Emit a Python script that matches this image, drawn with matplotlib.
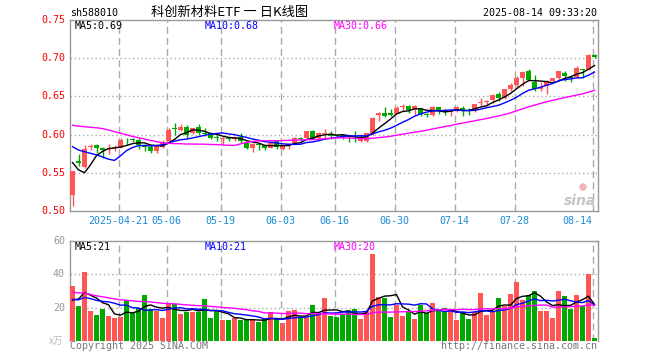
import numpy as np
import matplotlib
matplotlib.use('Agg')
import matplotlib.pyplot as plt

# ---------------- data ----------------
open_ = [0.521, 0.5653, 0.558, 0.584, 0.587, 0.582, 0.580, 0.582, 0.583, 0.592,
         0.5935, 0.5925, 0.586, 0.584, 0.5785, 0.584, 0.5917, 0.608, 0.606, 0.6105,
         0.6026, 0.6105, 0.6026, 0.6026, 0.597, 0.5945, 0.595, 0.594, 0.597, 0.5895,
         0.582, 0.588, 0.586, 0.583, 0.5917, 0.5815, 0.587, 0.5895, 0.5952, 0.5952,
         0.6044, 0.5961, 0.6013, 0.600, 0.599, 0.599, 0.598, 0.5957, 0.5917, 0.5917,
         0.6017, 0.6263, 0.628, 0.628, 0.6272, 0.636, 0.6378, 0.6333, 0.6342, 0.6268,
         0.6255, 0.636, 0.6316, 0.6294, 0.6311, 0.6346, 0.632, 0.6311, 0.6412, 0.643,
         0.6452, 0.6535, 0.6474, 0.6597, 0.6654, 0.6741, 0.6833, 0.6693, 0.6597, 0.6632,
         0.6697, 0.6737, 0.6807, 0.6754, 0.675, 0.686, 0.6847, 0.7048]
high = [0.553, 0.5741, 0.586, 0.588, 0.588, 0.584, 0.588, 0.587, 0.596, 0.5956,
        0.596, 0.595, 0.588, 0.586, 0.588, 0.593, 0.608, 0.615, 0.6136, 0.612,
        0.609, 0.6136, 0.608, 0.604, 0.600, 0.598, 0.597, 0.598, 0.6026, 0.590,
        0.589, 0.5895, 0.587, 0.590, 0.593, 0.587, 0.5895, 0.5965, 0.597, 0.605,
        0.606, 0.604, 0.607, 0.6044, 0.600, 0.600, 0.600, 0.6044, 0.601, 0.6026,
        0.6232, 0.6294, 0.6364, 0.6338, 0.6377, 0.640, 0.6386, 0.6386, 0.6345, 0.628,
        0.6377, 0.6364, 0.6333, 0.634, 0.6368, 0.6377, 0.6346, 0.640, 0.6474, 0.6452,
        0.653, 0.6553, 0.660, 0.6671, 0.6772, 0.6834, 0.686, 0.678, 0.6693, 0.671,
        0.6741, 0.6838, 0.6833, 0.6772, 0.6895, 0.686, 0.705, 0.705]
low = [0.507, 0.5588, 0.556, 0.580, 0.576, 0.570, 0.575, 0.5785, 0.582, 0.587,
       0.590, 0.581, 0.579, 0.576, 0.576, 0.582, 0.5895, 0.599, 0.6048, 0.596,
       0.601, 0.599, 0.598, 0.594, 0.5917, 0.586, 0.591, 0.592, 0.589, 0.581,
       0.577, 0.580, 0.580, 0.582, 0.5815, 0.580, 0.5807, 0.589, 0.5917, 0.594,
       0.594, 0.594, 0.5961, 0.5948, 0.595, 0.5939, 0.590, 0.590, 0.590, 0.590,
       0.600, 0.618, 0.6224, 0.6246, 0.6268, 0.6311, 0.628, 0.6254, 0.6246, 0.6224,
       0.6246, 0.627, 0.6254, 0.6246, 0.630, 0.6246, 0.6254, 0.630, 0.6377, 0.6377,
       0.6412, 0.6443, 0.6465, 0.6575, 0.6618, 0.664, 0.6714, 0.6575, 0.6575, 0.6531,
       0.668, 0.6715, 0.6706, 0.6693, 0.6737, 0.6741, 0.684, 0.700]
close = [0.552, 0.5623, 0.581, 0.585, 0.582, 0.580, 0.581, 0.584, 0.5925, 0.591,
         0.5925, 0.586, 0.584, 0.5785, 0.587, 0.590, 0.6057, 0.607, 0.6105, 0.5996,
         0.608, 0.6026, 0.601, 0.5956, 0.5952, 0.596, 0.594, 0.597, 0.5917, 0.582,
         0.5873, 0.587, 0.582, 0.5886, 0.5838, 0.586, 0.588, 0.5952, 0.594, 0.6044,
         0.5948, 0.6026, 0.6026, 0.5987, 0.598, 0.5975, 0.5965, 0.594, 0.596, 0.6017,
         0.6219, 0.628, 0.6237, 0.6263, 0.6351, 0.6378, 0.6325, 0.6368, 0.6268, 0.6255,
         0.636, 0.6311, 0.629, 0.6311, 0.6355, 0.6311, 0.6311, 0.6395, 0.6425, 0.6443,
         0.6522, 0.6478, 0.6597, 0.6654, 0.6741, 0.682, 0.6719, 0.6597, 0.6627, 0.6706,
         0.6737, 0.6833, 0.6772, 0.6737, 0.6873, 0.6847, 0.7048, 0.7013]
volume = [33, 21, 41.4, 18, 15.4, 19.2, 14.8, 13.8, 14.4, 24.6,
          16.8, 19.8, 27.6, 19.4, 18, 13.8, 22, 22, 16, 17.4,
          17.4, 17.4, 25.2, 13.8, 17.8, 12.4, 12.4, 13.8, 12.4, 13,
          12.4, 11.2, 13.4, 17.2, 13.4, 10.6, 17.8, 18.4, 14.4, 13.8,
          21.4, 17.2, 25.6, 14.8, 14.4, 16, 18.4, 19, 13, 17.8,
          52, 26.2, 25.6, 14.2, 21.4, 14.8, 17.2, 13, 21.4, 16.6,
          22.6, 18.4, 17.2, 18.4, 12.4, 17.2, 13, 17.2, 28.6, 15.4,
          17.8, 25.6, 20.8, 28, 35.2, 24.4, 27.4, 29.8, 17.8, 17.8,
          13.6, 29.8, 26.8, 19, 27.5, 20.8, 40.5, 1.6]
# closes / volumes of the 29 sessions before the window (estimated from the MA lines)
prior_close = [0.600, 0.603, 0.606, 0.604, 0.607,
               0.640, 0.648, 0.655, 0.652, 0.655,
               0.640, 0.636, 0.632, 0.630, 0.635, 0.631,
               0.618, 0.614, 0.613,
               0.607, 0.606, 0.604, 0.605, 0.603, 0.607,
               0.610, 0.600, 0.533, 0.522]
prior_volume = [38, 42, 45, 40, 36, 34, 33, 30, 32, 29,
                31, 28, 27, 30, 26, 28, 25, 27, 26, 25,
                24, 27, 25, 26, 25, 18, 22, 26, 24]

tick_index = [8, 16, 25, 35, 44, 54, 64, 74, 87]
tick_labels = ['2025-04-21', '05-06', '05-19', '06-03', '06-16',
               '06-30', '07-14', '07-28', '08-14']
price_ticks = [0.50, 0.55, 0.60, 0.65, 0.70, 0.75]
vol_ticks = [20, 40, 60]
ma_periods = [5, 10, 30]
price_ma_text = ['0.69', '0.68', '0.66']
vol_ma_text = ['21', '21', '20']

# ---------------- style ----------------
RED = '#ff5555'
GREEN = '#00a800'
MA_COLORS = ['#000000', '#0000ff', '#ff00ff']
GRID = '#aaaaaa'
FRAME = '#999999'
DATE_BLUE = '#1a8ad6'
MONO = 'DejaVu Sans Mono'
FS = 7.2
CJK = ['Noto Sans CJK SC', 'DejaVu Sans']

W, H = 660, 360
fig = plt.figure(figsize=(W / 100, H / 100), dpi=100)


def fx(px):
    return px / W


def fy(py):
    return 1 - py / H


ax = fig.add_axes([fx(70), fy(211), 528 / W, 191 / H])
axv = fig.add_axes([fx(70), fy(341), 528 / W, 100 / H])

n = len(close)
x = np.arange(n)
o = np.array(open_)
c = np.array(close)
hi = np.array(high)
lo = np.array(low)
v = np.array(volume)
up = c >= o
cols = np.where(up, RED, GREEN)


def moving(full, p, k):
    arr = np.asarray(full, dtype=float)
    return np.convolve(arr, np.ones(p) / p, mode='valid')[-k:]


full_close = list(prior_close) + list(close)
full_vol = list(prior_volume) + list(volume)

xl = (-2.5 / 6, n - 2.5 / 6)

# --- price panel ---
for yv in price_ticks[1:-1]:
    ax.axhline(yv, color=GRID, lw=1, ls=(0, (1, 2)), zorder=0)
for axx in (ax, axv):
    for ti in tick_index:
        axx.axvline(ti - 2.5 / 6 + 1 / 12, color=GRID, lw=1, ls=(0, (5, 3)), zorder=0)

body_b = np.minimum(o, c)
body_h = np.maximum(np.abs(c - o), 0.0012)
ax.vlines(x, lo, hi, colors=cols, lw=1, zorder=2)
ax.bar(x, body_h, bottom=body_b, width=5 / 6, color=cols, linewidth=0, zorder=3)
for p, mc in zip(ma_periods, MA_COLORS):
    ax.plot(x, moving(full_close, p, n), color=mc, lw=1, zorder=4)

ax.set_xlim(*xl)
ax.set_ylim(0.50, 0.75)

# --- volume panel ---
for yv in vol_ticks[:-1]:
    axv.axhline(yv, color=GRID, lw=1, ls=(0, (1, 2)), zorder=0)
axv.bar(x, v, width=5 / 6, color=cols, linewidth=0, zorder=3)
for p, mc in zip(ma_periods, MA_COLORS):
    axv.plot(x, moving(full_vol, p, n), color=mc, lw=1, zorder=4)
axv.set_xlim(*xl)
axv.set_ylim(0, 60)

for axx in (ax, axv):
    axx.set_xticks([])
    axx.set_yticks([])
    for name, s in axx.spines.items():
        s.set_color(FRAME)
        s.set_linewidth(1)
axv.spines['bottom'].set_visible(False)

# y labels
ytr = ax.get_yaxis_transform()
for yv in price_ticks:
    ax.text(-5 / 528, yv, f'{yv:.2f}', transform=ytr, ha='right', va='center',
            color='#ff0000', fontsize=FS, family=MONO)
vtr = axv.get_yaxis_transform()
for yv in vol_ticks:
    axv.text(-5 / 528, yv, f'{yv}', transform=vtr, ha='right', va='center',
             color='#999999', fontsize=FS, family=MONO)
axv.text(-7 / 528, 0, 'x万', transform=vtr, ha='right', va='center',
         color='#bbbbbb', fontsize=7, family=CJK)

# x labels
for ti, lab in zip(tick_index, tick_labels):
    px = 70 + 6 * ti
    ha = 'right' if ti == tick_index[-1] else 'center'
    fig.text(fx(px), fy(221.5), lab, ha=ha, va='center',
             color=DATE_BLUE, fontsize=FS, family=MONO)

# header
fig.text(fx(70), fy(13), 'sh588010', ha='left', va='center', fontsize=FS, family=MONO)
fig.text(fx(230), fy(12.5), '科创新材料ETF 一 日K线图', ha='center', va='center',
         fontsize=9.5, family=CJK)
fig.text(fx(597), fy(13), '2025-08-14 09:33:20', ha='right', va='center',
         fontsize=FS, family=MONO)

# MA legends
ma_x = [75, 205, 334]
for px, p, mc, t in zip(ma_x, ma_periods, MA_COLORS, price_ma_text):
    fig.text(fx(px), fy(26), f'MA{p}:{t}', ha='left', va='center', color=mc,
             fontsize=FS, family=MONO)
for px, p, mc, t in zip(ma_x, ma_periods, MA_COLORS, vol_ma_text):
    fig.text(fx(px), fy(246.5), f'MA{p}:{t}', ha='left', va='center', color=mc,
             fontsize=FS, family=MONO)

# footer
fig.text(fx(70), fy(346), 'Copyright 2025 SINA.COM', ha='left', va='center',
         color='#777777', fontsize=FS, family=MONO)
fig.text(fx(597), fy(346), 'http://finance.sina.com.cn', ha='right', va='center',
         color='#777777', fontsize=FS, family=MONO)

# watermark (sina logo)
fig.text(fx(596), fy(205), 'sina', ha='right', va='baseline', color='#c4c4c4',
         fontsize=10, fontweight='bold', style='italic', family='DejaVu Sans')
ax.scatter([(583 - 70) / 528], [(211 - 187) / 191], s=30, color='#f2b4b4',
           edgecolors='none', transform=ax.transAxes, zorder=1)

fig.savefig('out.png', dpi=100)
